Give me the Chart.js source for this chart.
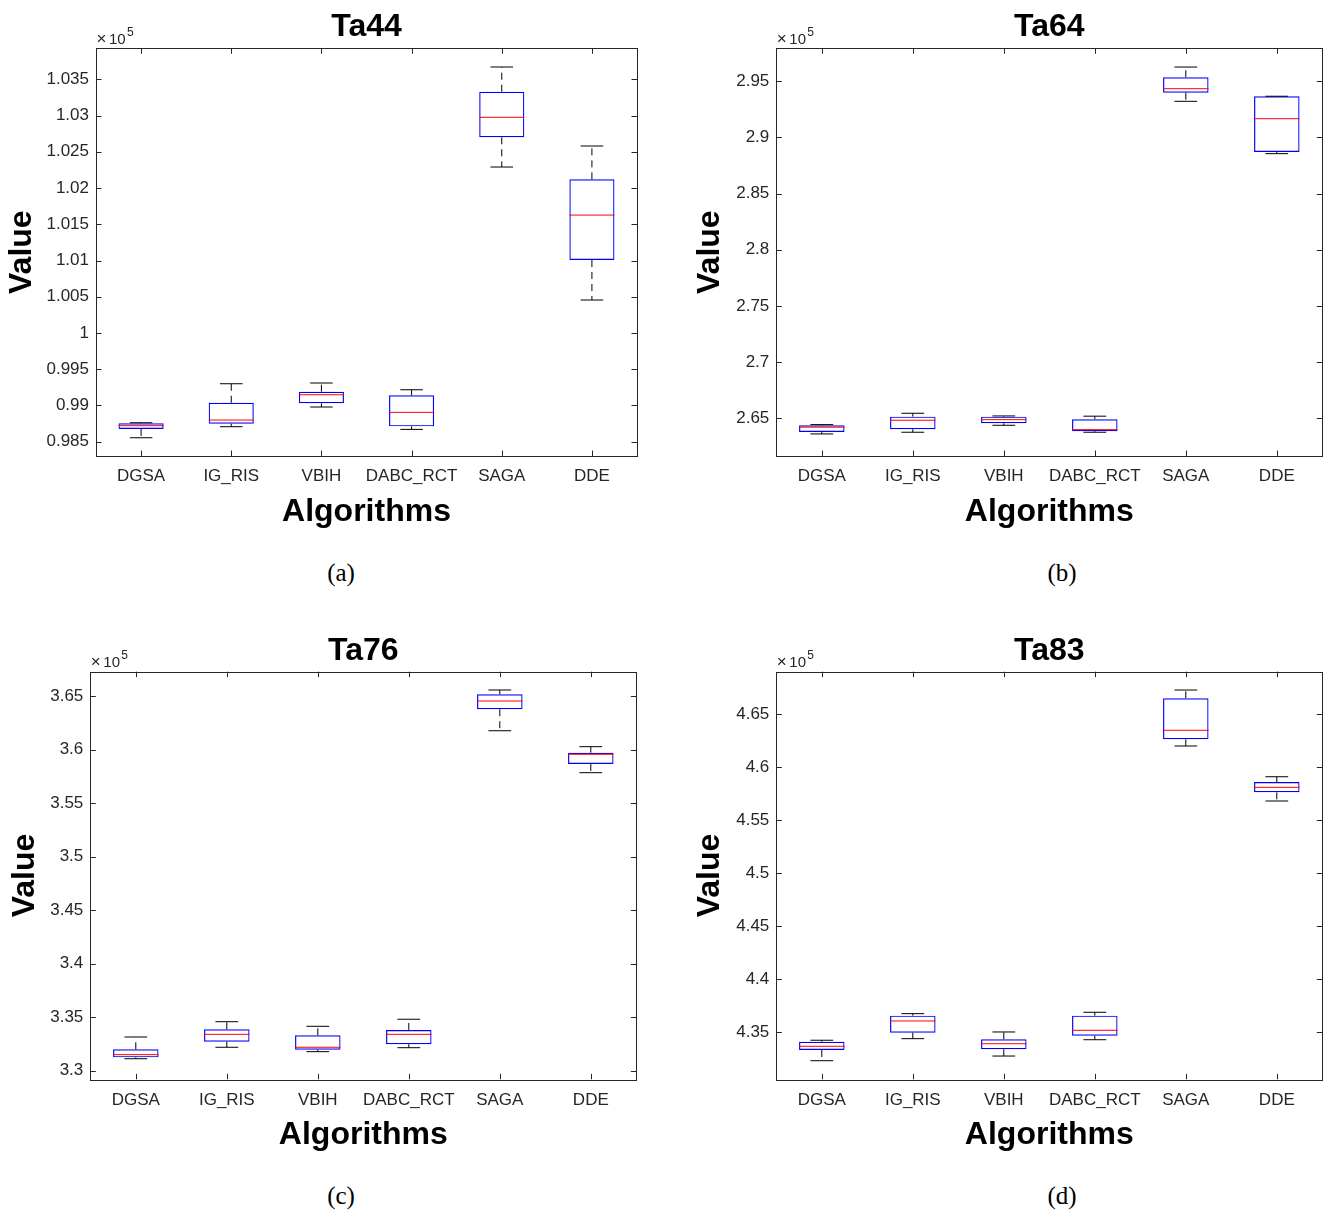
<!DOCTYPE html>
<html>
<head>
<meta charset="utf-8">
<script src="https://cdn.jsdelivr.net/npm/chart.js@4.4.1/dist/chart.umd.min.js"></script>
<style>
  body { margin: 0; background: #fff; width: 1326px; height: 1213px; position: relative; overflow: hidden; }
  canvas { position: absolute; }
  .cap { position: absolute; font-family: "Liberation Serif", "Times New Roman", serif; font-size: 25px; color: #000; transform: translateX(-50%); }
</style>
</head>
<body>
<canvas id="ta44" width="660" height="540" style="left:0;top:0"></canvas>
<canvas id="ta64" width="646" height="540" style="left:680px;top:0"></canvas>
<canvas id="ta76" width="660" height="540" style="left:0;top:623px"></canvas>
<canvas id="ta83" width="646" height="540" style="left:680px;top:623px"></canvas>
<div class="cap" style="left:341px;top:559px">(a)</div>
<div class="cap" style="left:1062px;top:559px">(b)</div>
<div class="cap" style="left:341px;top:1182px">(c)</div>
<div class="cap" style="left:1062px;top:1182px">(d)</div>
<script>
const algorithms = ['DGSA', 'IG_RIS', 'VBIH', 'DABC_RCT', 'SAGA', 'DDE'];

// values are in units of 10^5
const ta44Low  = [0.98555, 0.98707, 0.98979, 0.98670, 1.02290, 1.00455];
const ta44Q1   = [0.98675, 0.98748, 0.99030, 0.98712, 1.02700, 1.01007];
const ta44Med  = [0.98721, 0.98799, 0.99148, 0.98905, 1.02976, 1.01627];
const ta44Q3   = [0.98754, 0.99038, 0.99190, 0.99140, 1.03329, 1.02120];
const ta44High = [0.98762, 0.99300, 0.99310, 0.99217, 1.03670, 1.02580];
const ta44Ticks = [0.985, 0.99, 0.995, 1, 1.005, 1.01, 1.015, 1.02, 1.025, 1.03, 1.035];

const ta64Low  = [2.6361, 2.6376, 2.6438, 2.6376, 2.9322, 2.8856];
const ta64Q1   = [2.6379, 2.6403, 2.6456, 2.6385, 2.9399, 2.8871];
const ta64Med  = [2.6421, 2.6483, 2.6488, 2.6399, 2.9434, 2.9167];
const ta64Q3   = [2.6438, 2.6515, 2.6515, 2.6492, 2.9536, 2.9367];
const ta64High = [2.6444, 2.6545, 2.6521, 2.6519, 2.9627, 2.9367];
const ta64Ticks = [2.65, 2.7, 2.75, 2.8, 2.85, 2.9, 2.95];

const ta76Low  = [3.3112, 3.3219, 3.3178, 3.3215, 3.6178, 3.5786];
const ta76Q1   = [3.3125, 3.3271, 3.3196, 3.3247, 3.6379, 3.5867];
const ta76Med  = [3.3150, 3.3340, 3.3219, 3.3340, 3.6456, 3.5958];
const ta76Q3   = [3.3200, 3.3387, 3.3331, 3.3381, 3.6519, 3.5973];
const ta76High = [3.3315, 3.3458, 3.3415, 3.3481, 3.6559, 3.6029];
const ta76Ticks = [3.3, 3.35, 3.4, 3.45, 3.5, 3.55, 3.6, 3.65];

const ta83Low  = [4.3232, 4.3440, 4.3276, 4.3430, 4.6201, 4.5682];
const ta83Q1   = [4.3333, 4.3496, 4.3340, 4.3468, 4.6264, 4.5764];
const ta83Med  = [4.3368, 4.3607, 4.3392, 4.3519, 4.6349, 4.5811];
const ta83Q3   = [4.3411, 4.3657, 4.3434, 4.3657, 4.6651, 4.5861];
const ta83High = [4.3425, 4.3676, 4.3503, 4.3689, 4.6729, 4.5911];
const ta83Ticks = [4.35, 4.4, 4.45, 4.5, 4.55, 4.6, 4.65];

const FONT = '"Liberation Sans", Arial, Helvetica, sans-serif';
const AXIS = '#262626';
const BIG = 32;
const BIG_LH = BIG * 1.2;

// whiskers, caps, medians, the box frame with inward ticks and the exponent label
const boxExtras = {
    id: 'boxExtras',
    afterDatasetsDraw(chart, args, opts) {
        const ctx = chart.ctx;
        const x = chart.scales.x;
        const y = chart.scales.y;
        const bars = chart.getDatasetMeta(0).data;
        ctx.save();
        for (let i = 0; i < opts.med.length; i++) {
            const cx = x.getPixelForValue(i);
            const half = bars[i].width / 2;
            const capHalf = half / 2;
            const yLow = y.getPixelForValue(opts.low[i]);
            const yQ1 = y.getPixelForValue(opts.q1[i]);
            const yQ3 = y.getPixelForValue(opts.q3[i]);
            const yHigh = y.getPixelForValue(opts.high[i]);
            const yMed = y.getPixelForValue(opts.med[i]);

            ctx.strokeStyle = '#000';
            ctx.lineWidth = 1;
            ctx.setLineDash([7, 5]);
            ctx.beginPath();
            ctx.moveTo(cx, yQ3); ctx.lineTo(cx, yHigh);
            ctx.moveTo(cx, yQ1); ctx.lineTo(cx, yLow);
            ctx.stroke();
            ctx.setLineDash([]);
            ctx.beginPath();
            ctx.moveTo(cx - capHalf, yHigh); ctx.lineTo(cx + capHalf, yHigh);
            ctx.moveTo(cx - capHalf, yLow); ctx.lineTo(cx + capHalf, yLow);
            ctx.stroke();

            ctx.strokeStyle = '#ff0000';
            ctx.beginPath();
            ctx.moveTo(cx - half, yMed); ctx.lineTo(cx + half, yMed);
            ctx.stroke();
        }

        const a = chart.chartArea;
        const tl = 5.5;
        ctx.strokeStyle = AXIS;
        ctx.lineWidth = 1;
        ctx.strokeRect(Math.round(a.left) + 0.5, Math.round(a.top) + 0.5,
            Math.round(a.right - a.left), Math.round(a.bottom - a.top));
        ctx.beginPath();
        x.ticks.forEach((t, i) => {
            const px = Math.round(x.getPixelForTick(i)) + 0.5;
            ctx.moveTo(px, a.bottom); ctx.lineTo(px, a.bottom - tl);
            ctx.moveTo(px, a.top); ctx.lineTo(px, a.top + tl);
        });
        y.ticks.forEach((t, i) => {
            const py = Math.round(y.getPixelForTick(i)) + 0.5;
            ctx.moveTo(a.left, py); ctx.lineTo(a.left + tl, py);
            ctx.moveTo(a.right, py); ctx.lineTo(a.right - tl, py);
        });
        ctx.stroke();

        // exponent label above the top-left corner
        ctx.fillStyle = AXIS;
        ctx.textBaseline = 'alphabetic';
        ctx.textAlign = 'left';
        const base = a.top - 4.5;
        ctx.font = '17px ' + FONT;
        ctx.fillText('\u00d7', a.left + 0.5, base);
        ctx.font = '15px ' + FONT;
        ctx.fillText('10', a.left + 13, base);
        ctx.font = '12px ' + FONT;
        ctx.fillText('5', a.left + 31, base - 8);
        ctx.restore();
    }
};

function makePanel(id, title, low, q1, med, q3, high, ticks, yMin, yMax, geo) {
    const boxes = q1.map((v, i) => [v, q3[i]]);
    return new Chart(document.getElementById(id), {
        type: 'bar',
        data: {
            labels: algorithms,
            datasets: [{
                data: boxes,
                backgroundColor: 'rgba(0,0,0,0)',
                borderColor: '#0000ff',
                borderWidth: 1.2,
                borderSkipped: false,
                barPercentage: 0.5,
                categoryPercentage: 1
            }]
        },
        options: {
            responsive: false,
            animation: false,
            devicePixelRatio: 1,
            layout: { padding: { left: 0, right: geo.rightPad, top: 0, bottom: 0 } },
            plugins: {
                legend: { display: false },
                tooltip: { enabled: false },
                title: {
                    display: true,
                    text: title,
                    fullSize: false,
                    color: '#000',
                    font: { family: FONT, size: BIG, weight: 'bold', lineHeight: 1.2 },
                    padding: { top: geo.titleTop, bottom: geo.plotTop - geo.titleTop - BIG_LH }
                },
                boxExtras: { low: low, q1: q1, med: med, q3: q3, high: high }
            },
            scales: {
                x: {
                    grid: { display: false, drawTicks: false },
                    border: { display: false },
                    ticks: { color: AXIS, font: { family: FONT, size: 17 }, padding: 10.5, maxRotation: 0, autoSkip: false },
                    title: {
                        display: true, text: 'Algorithms', color: '#000',
                        font: { family: FONT, size: BIG, weight: 'bold', lineHeight: 1.2 },
                        padding: { top: 0, bottom: 9.0 }
                    },
                    afterFit(scale) { scale.height = 540 - geo.plotBottom; }
                },
                y: {
                    min: yMin,
                    max: yMax,
                    grid: { display: false, drawTicks: false },
                    border: { display: false },
                    afterBuildTicks(scale) { scale.ticks = ticks.map(v => ({ value: v })); },
                    ticks: {
                        color: AXIS, font: { family: FONT, size: 17 }, padding: 7, autoSkip: false,
                        callback: v => String(Number(v.toFixed(4)))
                    },
                    title: {
                        display: true, text: 'Value', color: '#000',
                        font: { family: FONT, size: BIG, weight: 'bold', lineHeight: 1.2 },
                        padding: { top: geo.valuePad, bottom: 0 }
                    },
                    afterFit(scale) { scale.width = geo.yWidth; }
                }
            }
        },
        plugins: [boxExtras]
    });
}

makePanel('ta44', 'Ta44', ta44Low, ta44Q1, ta44Med, ta44Q3, ta44High, ta44Ticks, 0.98303, 1.03928,
    { yWidth: 96, rightPad: 23, plotTop: 48.3, plotBottom: 456, valuePad: 2.8, titleTop: 7.8 });
makePanel('ta64', 'Ta64', ta64Low, ta64Q1, ta64Med, ta64Q3, ta64High, ta64Ticks, 2.61645, 2.97938,
    { yWidth: 96.3, rightPad: 3.7, plotTop: 48.3, plotBottom: 456, valuePad: 10.8, titleTop: 7.8 });
makePanel('ta76', 'Ta76', ta76Low, ta76Q1, ta76Med, ta76Q3, ta76High, ta76Ticks, 3.29196, 3.673,
    { yWidth: 90.3, rightPad: 23.7, plotTop: 48.7, plotBottom: 456.3, valuePad: 5.8, titleTop: 8.8 });
makePanel('ta83', 'Ta83', ta83Low, ta83Q1, ta83Med, ta83Q3, ta83High, ta83Ticks, 4.30566, 4.69019,
    { yWidth: 96.3, rightPad: 3.7, plotTop: 48.7, plotBottom: 456.3, valuePad: 10.8, titleTop: 8.8 });
</script>
</body>
</html>
